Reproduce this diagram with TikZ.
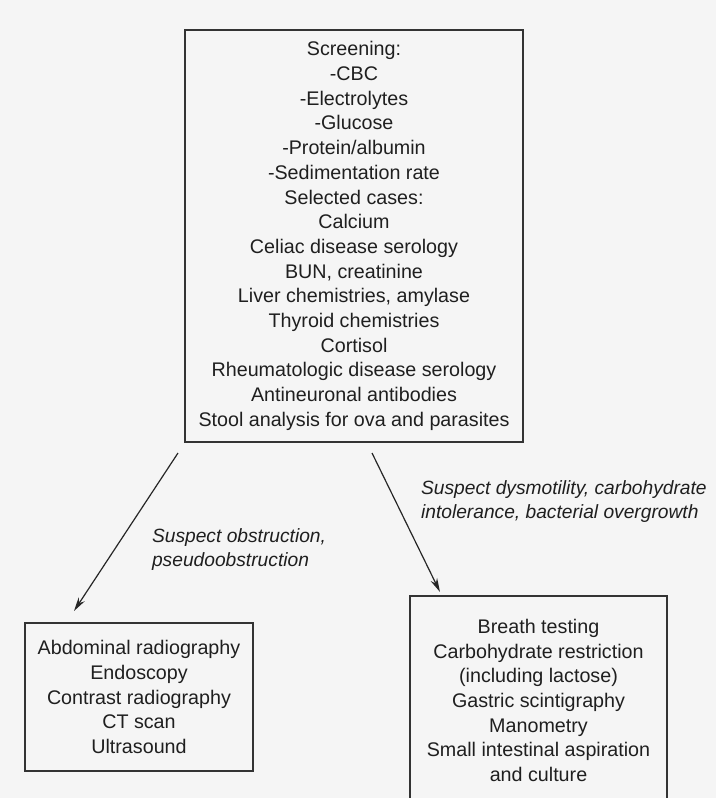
\documentclass[tikz,border=0pt]{standalone}
\usepackage{fontspec}
\setmainfont{Liberation Sans}
\usepackage{xcolor}
\usepackage{tikz}
\usetikzlibrary{arrows.meta,calc,positioning}

\tikzset{
  testbox/.style={draw=black!80,line width=1pt,align=center,text=black!88,
    font=\fontsize{9.85}{12.35}\selectfont},
  branch/.style={align=left,text=black!88,
    font=\fontsize{9.6}{12.2}\selectfont\itshape},
  flow/.style={-{Stealth[length=7pt,width=3.6pt]},line width=0.6pt,black!85}
}

\begin{document}
\begin{tikzpicture}[x=0.5pt,y=-0.5pt]
  \clip (0,0) rectangle (716,798);
  \fill[black!4] (0,0) rectangle (716,798);
  % initial work-up
  \node[testbox,minimum width=169pt,minimum height=206pt] (screen) at (354,236)
    {Screening:\\-CBC\\-Electrolytes\\-Glucose\\-Protein/albumin\\-Sedimentation rate\\
     Selected cases:\\Calcium\\Celiac disease serology\\BUN, creatinine\\
     Liver chemistries, amylase\\Thyroid chemistries\\Cortisol\\
     Rheumatologic disease serology\\Antineuronal antibodies\\
     Stool analysis for ova and parasites};
  % the two branches
  \node[testbox,minimum width=114pt,minimum height=74pt] (obstr) at (139,697)
    {Abdominal radiography\\Endoscopy\\Contrast radiography\\CT scan\\Ultrasound};
  \node[testbox,minimum width=128.5pt,minimum height=104.5pt] (motil) at (538.5,700.5)
    {Breath testing\\Carbohydrate restriction\\(including lactose)\\Gastric scintigraphy\\
     Manometry\\Small intestinal aspiration\\and culture};
  \node[branch,anchor=west] (obstrlab) at (145,549.5)
    {Suspect obstruction,\\pseudoobstruction};
  \node[branch,anchor=west] (motillab) at (414,501.5)
    {Suspect dysmotility, carbohydrate\\intolerance, bacterial overgrowth};
  \coordinate (lstart) at ($(screen.south west)+(-6,10)$);
  \coordinate (lend) at ($(obstr.north west)+(50,-11)$);
  \coordinate (rstart) at ($(screen.south)+(18,10)$);
  \coordinate (rend) at ($(motil.north west)+(31,-3)$);
  \draw[flow] (lstart) -- (lend);
  \draw[flow] (rstart) -- (rend);
\end{tikzpicture}
\end{document}
